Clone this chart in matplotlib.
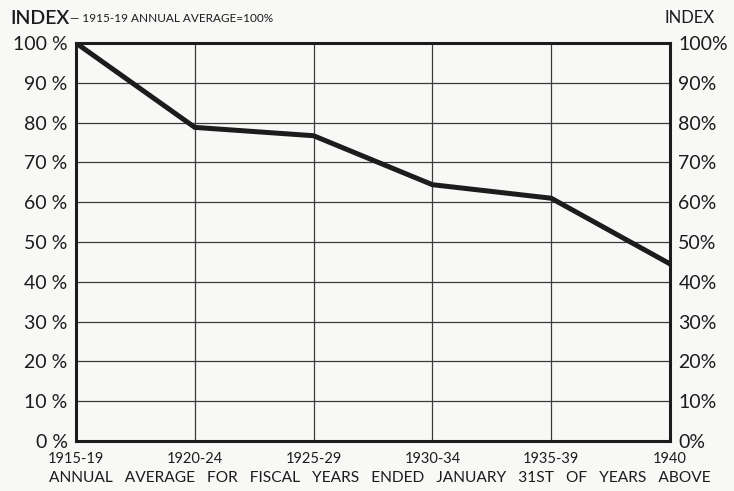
import matplotlib.pyplot as plt

# data
periods = ['1915-19', '1920-24', '1925-29', '1930-34', '1935-39', '1940']
index_pct = [100, 78.8, 76.7, 64.4, 61.0, 44.5]
y_ticks = [0, 10, 20, 30, 40, 50, 60, 70, 80, 90, 100]

plt.rcParams['font.family'] = ['Lato', 'DejaVu Sans']
ink = '#1c1c1c'

fig = plt.figure(figsize=(7.34, 4.91), dpi=100, facecolor='#f8f8f6')
ax = fig.add_axes([76 / 734, 1 - 441 / 491, 594 / 734, 398 / 491])
ax.set_facecolor('#f8f8f6')

x = list(range(len(periods)))
ax.plot(x, index_pct, color=ink, lw=3.6, solid_joinstyle='miter', zorder=3)

ax.set_xlim(0, len(periods) - 1)
ax.set_ylim(0, 100)
ax.set_xticks(x)
ax.set_xticklabels(periods, fontsize=10.5, color=ink)
ax.set_yticks(y_ticks)
ax.set_yticklabels([f'{v} %' for v in y_ticks], fontsize=14, color=ink)
ax.tick_params(axis='both', length=0, pad=6)
ax.tick_params(axis='x', pad=8)

ax.grid(True, color='#3a3a3a', lw=0.9)
for s in ax.spines.values():
    s.set_color(ink)
    s.set_linewidth(2.2)

# right hand axis with the same scale
ax2 = ax.twinx()
ax2.set_ylim(0, 100)
ax2.set_yticks(y_ticks)
ax2.set_yticklabels([f'{v}%' for v in y_ticks], fontsize=14, color=ink)
ax2.tick_params(axis='y', length=0, pad=6)
for s in ax2.spines.values():
    s.set_visible(False)

# bottom caption spans nearly the full width in the original
fig.text(380 / 734, 1 - 478 / 491,
         'ANNUAL   AVERAGE   FOR   FISCAL   YEARS   ENDED   JANUARY   31ST   OF   YEARS   ABOVE',
         fontsize=11.2, color=ink, ha='center', va='center')

fig.text(10 / 734, 1 - 18 / 491, 'INDEX', fontsize=14, fontweight='semibold', color=ink, va='center')
fig.text(70 / 734, 1 - 19 / 491, '— 1915-19 ANNUAL AVERAGE=100%', fontsize=8.5, color=ink, va='center')
fig.text(715 / 734, 1 - 18 / 491, 'INDEX', fontsize=12, color=ink, va='center', ha='right')

fig.savefig('out.png', dpi=100, facecolor=fig.get_facecolor())
